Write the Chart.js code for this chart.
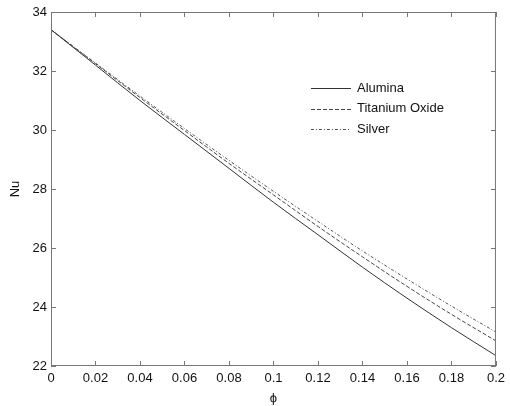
<!DOCTYPE html>
<html lang="en">
<head>
    <meta charset="UTF-8">
    <title>Nu vs phi</title>
    <script src="https://cdn.jsdelivr.net/npm/chart.js"></script>
    <style>
        * { margin: 0; padding: 0; box-sizing: border-box; }
        body { background: #fff; }
        #wrap { width: 510px; height: 406px; }
    </style>
</head>
<body>
    <div id="wrap"><canvas id="nuCanvas" width="510" height="406"></canvas></div>

    <script>
        // volume fraction and Nusselt number for each nanofluid
        var phi = [0, 0.02, 0.04, 0.06, 0.08, 0.1, 0.12, 0.14, 0.16, 0.18, 0.2];
        var alumina = [33.4, 32.2, 31.0, 29.85, 28.7, 27.55, 26.45, 25.35, 24.3, 23.3, 22.35];
        var titanium = [33.4, 32.25, 31.1, 29.98, 28.87, 27.8, 26.73, 25.7, 24.7, 23.75, 22.85];
        var silver = [33.4, 32.27, 31.15, 30.05, 28.97, 27.92, 26.9, 25.9, 24.95, 24.03, 23.15];

        var xTicks = [0, 0.02, 0.04, 0.06, 0.08, 0.1, 0.12, 0.14, 0.16, 0.18, 0.2];
        var yTicks = [22, 24, 26, 28, 30, 32, 34];

        var fontFamily = '"Liberation Sans", Arial, sans-serif';
        var axisColor = '#777';

        function points(ys) {
            return phi.map(function (x, i) { return { x: x, y: ys[i] }; });
        }

        var series = [
            { label: 'Alumina', data: alumina, dash: [], color: '#333' },
            { label: 'Titanium Oxide', data: titanium, dash: [4, 2], color: '#444' },
            { label: 'Silver', data: silver, dash: [3, 2, 1, 2], color: '#555' }
        ];

        // box, inward tick marks on all four sides and the legend
        var framePlugin = {
            id: 'frame',
            afterDraw: function (chart) {
                var ctx = chart.ctx, a = chart.chartArea;
                var xs = chart.scales.x, ys = chart.scales.y;
                ctx.save();
                ctx.strokeStyle = axisColor;
                ctx.lineWidth = 1;
                ctx.strokeRect(a.left + 0.5, a.top + 0.5, a.right - a.left - 1, a.bottom - a.top - 1);
                ctx.beginPath();
                xTicks.forEach(function (v) {
                    var px = Math.round(xs.getPixelForValue(v)) + 0.5;
                    ctx.moveTo(px, a.bottom); ctx.lineTo(px, a.bottom - 5);
                    ctx.moveTo(px, a.top); ctx.lineTo(px, a.top + 5);
                });
                yTicks.forEach(function (v) {
                    var py = Math.round(ys.getPixelForValue(v)) + 0.5;
                    ctx.moveTo(a.left, py); ctx.lineTo(a.left + 5, py);
                    ctx.moveTo(a.right, py); ctx.lineTo(a.right - 5, py);
                });
                ctx.stroke();

                // legend
                ctx.fillStyle = '#111';
                ctx.font = '13px ' + fontFamily;
                ctx.textBaseline = 'middle';
                series.forEach(function (s, i) {
                    var y = 88 + i * 20.5;
                    ctx.strokeStyle = s.color;
                    ctx.setLineDash(s.dash);
                    ctx.beginPath();
                    ctx.moveTo(311, Math.round(y) + 0.5);
                    ctx.lineTo(351, Math.round(y) + 0.5);
                    ctx.stroke();
                    ctx.setLineDash([]);
                    ctx.fillText(s.label, 357, y);
                });
                ctx.restore();
            }
        };

        var ctx = document.getElementById('nuCanvas').getContext('2d');
        var nuChart = new Chart(ctx, {
            type: 'line',
            data: {
                datasets: series.map(function (s) {
                    return {
                        label: s.label,
                        data: points(s.data),
                        borderColor: s.color,
                        borderWidth: 1,
                        borderDash: s.dash,
                        pointRadius: 0,
                        fill: false,
                        cubicInterpolationMode: 'monotone'
                    };
                })
            },
            options: {
                responsive: false,
                animation: false,
                layout: { padding: { top: 12, right: 11, left: 0, bottom: 0 } },
                plugins: {
                    legend: { display: false },
                    tooltip: { enabled: false }
                },
                scales: {
                    x: {
                        type: 'linear',
                        min: 0,
                        max: 0.2,
                        grid: { display: false, drawTicks: false },
                        border: { display: false },
                        afterBuildTicks: function (scale) {
                            scale.ticks = xTicks.map(function (v) { return { value: v }; });
                        },
                        afterFit: function (scale) { scale.height = 40; },
                        ticks: {
                            color: '#111',
                            padding: 5,
                            font: { family: fontFamily, size: 13 },
                            maxRotation: 0,
                            callback: function (v) { return String(+v.toFixed(2)); }
                        },
                        title: {
                            display: true,
                            text: 'ϕ',
                            color: '#111',
                            padding: { top: 0, bottom: 0 },
                            font: { family: fontFamily, size: 13 }
                        }
                    },
                    y: {
                        type: 'linear',
                        min: 22,
                        max: 34,
                        grid: { display: false, drawTicks: false },
                        border: { display: false },
                        afterBuildTicks: function (scale) {
                            scale.ticks = yTicks.map(function (v) { return { value: v }; });
                        },
                        afterFit: function (scale) { scale.width = 51; },
                        ticks: {
                            color: '#111',
                            padding: 4,
                            font: { family: fontFamily, size: 13 }
                        },
                        title: {
                            display: true,
                            text: 'Nu',
                            color: '#111',
                            padding: { top: 8, bottom: 0 },
                            font: { family: fontFamily, size: 13 }
                        }
                    }
                }
            },
            plugins: [framePlugin]
        });
    </script>
</body>
</html>
